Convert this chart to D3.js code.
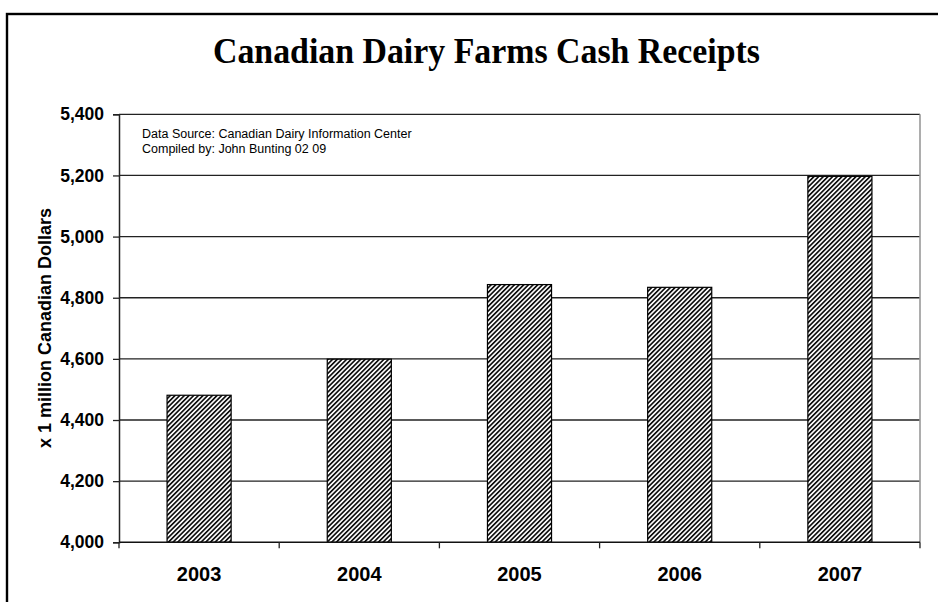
<!DOCTYPE html>
<html>
<head>
<meta charset="utf-8">
<script src="https://cdn.jsdelivr.net/npm/d3@7"></script>
<style>
  body { margin: 0; background: #fff; }
  svg { display: block; }
</style>
</head>
<body>
<script>
const width = 938, height = 602;

// data
const years = ["2003", "2004", "2005", "2006", "2007"];
const receipts = [4481, 4599, 4843, 4834, 5197];
const yTicks = [4000, 4200, 4400, 4600, 4800, 5000, 5200, 5400];
const notes = ["Data Source: Canadian Dairy Information Center", "Compiled by: John Bunting 02 09"];

const plot = { left: 119, right: 920, top: 114.3, bottom: 542.3 };

const svg = d3.select("body")
    .append("svg")
    .attr("width", width)
    .attr("height", height);

// hatch pattern for the bars
const defs = svg.append("defs");
const pat = defs.append("pattern")
    .attr("id", "hatch")
    .attr("patternUnits", "userSpaceOnUse")
    .attr("width", 3.3)
    .attr("height", 3.3)
    .attr("patternTransform", "rotate(45)");
pat.append("rect").attr("width", 3.3).attr("height", 3.3).attr("fill", "#fff");
pat.append("rect").attr("x", 0).attr("width", 1.7).attr("height", 3.3).attr("fill", "#111");

// outer frame
svg.append("rect")
    .attr("x", 7)
    .attr("y", 14)
    .attr("width", 960)
    .attr("height", 620)
    .attr("fill", "none")
    .attr("stroke", "#000")
    .attr("stroke-width", 2.4);

// title
svg.append("text")
    .attr("x", 486.5)
    .attr("y", 63)
    .attr("text-anchor", "middle")
    .attr("font-family", "'Liberation Serif', 'Times New Roman', serif")
    .attr("font-weight", "bold")
    .attr("font-size", 35)
    .attr("textLength", 547)
    .attr("lengthAdjust", "spacingAndGlyphs")
    .text("Canadian Dairy Farms Cash Receipts");

const x = d3.scaleBand()
    .domain(years)
    .range([plot.left, plot.right])
    .paddingInner(0.6)
    .paddingOuter(0.3);

const y = d3.scaleLinear()
    .domain([4000, 5400])
    .range([plot.bottom, plot.top]);

// gridlines
svg.append("g")
    .selectAll("line")
    .data(yTicks.filter(d => d > 4000))
    .join("line")
    .attr("x1", plot.left)
    .attr("x2", plot.right)
    .attr("y1", d => y(d))
    .attr("y2", d => y(d))
    .attr("stroke", "#222")
    .attr("stroke-width", 1.3);

// right edge of plot area
svg.append("line")
    .attr("x1", plot.right)
    .attr("x2", plot.right)
    .attr("y1", plot.top)
    .attr("y2", plot.bottom)
    .attr("stroke", "#999")
    .attr("stroke-width", 1.6);

// bars
svg.append("g")
    .selectAll("rect")
    .data(years.map((yr, i) => ({ yr, v: receipts[i] })))
    .join("rect")
    .attr("x", d => x(d.yr))
    .attr("y", d => y(d.v))
    .attr("width", x.bandwidth())
    .attr("height", d => y(4000) - y(d.v))
    .attr("fill", "url(#hatch)")
    .attr("stroke", "#000")
    .attr("stroke-width", 1.2);

// y axis
const yAxis = svg.append("g")
    .attr("transform", `translate(${plot.left},0)`)
    .call(d3.axisLeft(y)
        .tickValues(yTicks)
        .tickSize(6)
        .tickPadding(9)
        .tickFormat(d3.format(",")));
yAxis.select(".domain").attr("stroke", "#222").attr("stroke-width", 1.5);
yAxis.selectAll(".tick line").attr("stroke", "#222").attr("stroke-width", 1.3);
yAxis.selectAll(".tick text")
    .attr("font-family", "'Liberation Sans', Arial, sans-serif")
    .attr("font-weight", "bold")
    .attr("font-size", 17.5)
    .attr("fill", "#000");

// x axis line
svg.append("line")
    .attr("x1", plot.left)
    .attr("x2", plot.right)
    .attr("y1", plot.bottom)
    .attr("y2", plot.bottom)
    .attr("stroke", "#111")
    .attr("stroke-width", 1.5);

// x ticks sit on category boundaries
const bounds = d3.range(years.length + 1).map(i => plot.left + i * x.step());
svg.append("g")
    .selectAll("line")
    .data(bounds)
    .join("line")
    .attr("x1", d => d)
    .attr("x2", d => d)
    .attr("y1", plot.bottom)
    .attr("y2", plot.bottom + 6)
    .attr("stroke", "#222")
    .attr("stroke-width", 1.3);

// x labels
svg.append("g")
    .selectAll("text")
    .data(years)
    .join("text")
    .attr("x", d => x(d) + x.bandwidth() / 2)
    .attr("y", 581)
    .attr("text-anchor", "middle")
    .attr("font-family", "'Liberation Sans', Arial, sans-serif")
    .attr("font-weight", "bold")
    .attr("font-size", 20)
    .text(d => d);

// y axis title
svg.append("text")
    .attr("transform", "translate(51,328) rotate(-90)")
    .attr("text-anchor", "middle")
    .attr("font-family", "'Liberation Sans', Arial, sans-serif")
    .attr("font-weight", "bold")
    .attr("font-size", 18)
    .text("x 1 million Canadian Dollars");

// source note
svg.append("g")
    .selectAll("text")
    .data(notes)
    .join("text")
    .attr("x", 142)
    .attr("y", (d, i) => 137.5 + i * 15)
    .attr("font-family", "'Liberation Sans', Arial, sans-serif")
    .attr("font-size", 12.5)
    .text(d => d);
</script>
</body>
</html>
